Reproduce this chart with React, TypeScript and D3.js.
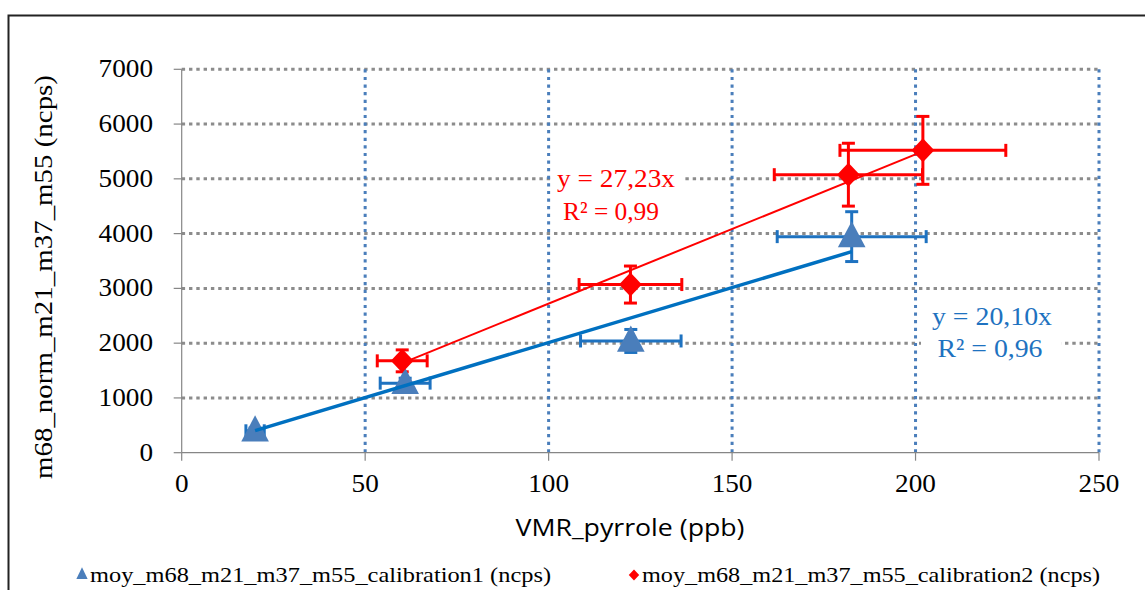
import React from "react";
import * as d3 from "d3";

// ---- data ----
const cal1X = [20, 60.9, 122.4, 182.6];
const cal1Y = [400, 1270, 2040, 3945];
const cal1XErr = [2.5, 6.8, 13.7, 20.3];
const cal1YErr = [50, 90, 210, 455];
const cal1Slope = 20.1;
const cal1Eq = "y = 20,10x";
const cal1R2 = "R² = 0,96";

const cal2X = [60.1, 122.3, 181.7, 202];
const cal2Y = [1677, 3070, 5076, 5520];
const cal2XErr = [6.8, 14, 20.2, 22.6];
const cal2YErr = [200, 338, 574, 620];
const cal2Slope = 27.23;
const cal2Eq = "y = 27,23x";
const cal2R2 = "R² = 0,99";

const xTicks = [0, 50, 100, 150, 200, 250];
const yTicks = [0, 1000, 2000, 3000, 4000, 5000, 6000, 7000];
const xTitle = "VMR_pyrrole (ppb)";
const yTitle = "m68_norm_m21_m37_m55  (ncps)";
const legend1 = "moy_m68_m21_m37_m55_calibration1 (ncps)";
const legend2 = "moy_m68_m21_m37_m55_calibration2 (ncps)";

const SERIF = "'Liberation Serif', 'Times New Roman', serif";
const SANS = "'Open Sans', 'Noto Sans', 'DejaVu Sans', sans-serif";
const BLUE_M = "#4a7ebb";
const BLUE_L = "#1e72c0";
const RED = "#ff0000";
const GRID = "#8c8c8c";

export default function App() {
  const x = d3.scaleLinear().domain([0, 250]).range([181.7, 1099]);
  const y = d3.scaleLinear().domain([0, 7000]).range([452.7, 69.3]);

  const tri = d3.symbol().type(d3.symbolTriangle).size(300)() as string;
  const dia = (s: number) => `M0,${-s}L${s * 0.95},0L0,${s}L${-s * 0.95},0Z`;
  const triSmall = d3.symbol().type(d3.symbolTriangle).size(55)() as string;

  const errBars = (xs: number[], ys: number[], xe: number[], ye: number[], color: string, key: string) =>
    xs.map((xv, i) => {
      const cx = x(xv), cy = y(ys[i]);
      const x1 = x(xv - xe[i]), x2 = x(xv + xe[i]);
      const y1 = y(ys[i] + ye[i]), y2 = y(ys[i] - ye[i]);
      const c = 6.5;
      return (
        <g key={key + i} stroke={color} strokeWidth={3} fill="none">
          <line x1={x1} x2={x2} y1={cy} y2={cy} />
          <line x1={x1} x2={x1} y1={cy - c} y2={cy + c} />
          <line x1={x2} x2={x2} y1={cy - c} y2={cy + c} />
          <line x1={cx} x2={cx} y1={y1} y2={y2} />
          <line x1={cx - c} x2={cx + c} y1={y1} y2={y1} />
          <line x1={cx - c} x2={cx + c} y1={y2} y2={y2} />
        </g>
      );
    });

  const trend = (xs: number[], slope: number) => {
    const lo = d3.min(xs) as number, hi = d3.max(xs) as number;
    return `M${x(lo)},${y(lo * slope)}L${x(hi)},${y(hi * slope)}`;
  };

  return (
    <svg width={1145} height={590} style={{ position: "absolute", left: 0, top: 0, background: "#fff" }}>
      <rect x={0} y={0} width={1145} height={590} fill="#fff" />
      <rect x={8.5} y={15.5} width={1140} height={620} fill="#fff" stroke="#222" strokeWidth={2} />

      {/* horizontal grid */}
      {yTicks.filter((t) => t > 0).map((t) => (
        <line key={"hg" + t} x1={x(0)} x2={x(250)} y1={y(t)} y2={y(t)} stroke={GRID} strokeWidth={3} strokeDasharray="3.4 3.9" />
      ))}
      {/* vertical grid */}
      {xTicks.filter((t) => t > 0).map((t) => (
        <line key={"vg" + t} x1={x(t)} x2={x(t)} y1={y(7000)} y2={y(0)} stroke={BLUE_M} strokeWidth={3} strokeDasharray="3.2 4.4" />
      ))}

      {/* axes */}
      <line x1={x(0)} x2={x(0)} y1={y(0)} y2={y(7000)} stroke="#868686" strokeWidth={1.2} />
      <line x1={x(0)} x2={x(250)} y1={y(0)} y2={y(0)} stroke="#868686" strokeWidth={1.2} />
      {yTicks.map((t) => (
        <g key={"yt" + t}>
          <line x1={x(0) - 8} x2={x(0)} y1={y(t)} y2={y(t)} stroke="#868686" strokeWidth={1.2} />
          <text x={153} y={y(t) + 8} textAnchor="end" fontFamily={SERIF} fontSize={26}
            textLength={String(t).length * 13.6} lengthAdjust="spacingAndGlyphs" fill="#000">
            {t}
          </text>
        </g>
      ))}
      {xTicks.map((t) => (
        <g key={"xt" + t}>
          <line x1={x(t)} x2={x(t)} y1={y(0)} y2={y(0) + 8} stroke="#868686" strokeWidth={1.2} />
          <text x={x(t)} y={492} textAnchor="middle" fontFamily={SERIF} fontSize={26}
            textLength={String(t).length * 13.6} lengthAdjust="spacingAndGlyphs" fill="#000">
            {t}
          </text>
        </g>
      ))}

      {/* axis titles */}
      <text x={630} y={536} textAnchor="middle" fontFamily={SANS} fontSize={24} textLength={229} lengthAdjust="spacingAndGlyphs" fill="#000">
        {xTitle}
      </text>
      <text transform={`translate(52,277) rotate(-90)`} textAnchor="middle" fontFamily={SERIF} fontSize={25} textLength={404} lengthAdjust="spacingAndGlyphs" fill="#000">
        {yTitle}
      </text>

      {/* error bars */}
      {errBars(cal1X, cal1Y, cal1XErr, cal1YErr, BLUE_L, "e1")}
      {errBars(cal2X, cal2Y, cal2XErr, cal2YErr, RED, "e2")}

      {/* markers */}
      {cal1X.map((xv, i) => (
        <path key={"m1" + i} d={tri} transform={`translate(${x(xv)},${y(cal1Y[i]) + 2}) scale(1.05,1.15)`} fill={BLUE_M} />
      ))}
      {cal2X.map((xv, i) => (
        <path key={"m2" + i} d={dia(12)} transform={`translate(${x(xv)},${y(cal2Y[i])})`} fill={RED} />
      ))}

      {/* trendlines */}
      <path d={trend(cal1X, cal1Slope)} stroke="#0070c0" strokeWidth={3.5} fill="none" />
      <path d={trend(cal2X, cal2Slope)} stroke={RED} strokeWidth={2} fill="none" />

      {/* equation labels */}
      <rect x={553} y={162} width={130} height={66} fill="#fff" />
      <text x={616} y={187} textAnchor="middle" fontFamily={SERIF} fontSize={26} textLength={118} lengthAdjust="spacingAndGlyphs" fill={RED}>
        {cal2Eq}
      </text>
      <text x={611} y={220} textAnchor="middle" fontFamily={SERIF} fontSize={26} textLength={96} lengthAdjust="spacingAndGlyphs" fill={RED}>
        {cal2R2}
      </text>
      <rect x={921} y={296} width={140} height={68} fill="#fff" />
      <text x={992} y={325} textAnchor="middle" fontFamily={SERIF} fontSize={26} textLength={120} lengthAdjust="spacingAndGlyphs" fill={BLUE_L}>
        {cal1Eq}
      </text>
      <text x={990} y={357} textAnchor="middle" fontFamily={SERIF} fontSize={26} textLength={105} lengthAdjust="spacingAndGlyphs" fill={BLUE_L}>
        {cal1R2}
      </text>

      {/* legend */}
      <path d={triSmall} transform={`translate(82,575) scale(1,1.2)`} fill={BLUE_M} />
      <text x={90} y={582} fontFamily={SERIF} fontSize={22} textLength={461} lengthAdjust="spacingAndGlyphs" fill="#000">
        {legend1}
      </text>
      <path d={dia(5.5)} transform={`translate(634,575)`} fill={RED} />
      <text x={642} y={582} fontFamily={SERIF} fontSize={22} textLength={458} lengthAdjust="spacingAndGlyphs" fill="#000">
        {legend2}
      </text>
    </svg>
  );
}
